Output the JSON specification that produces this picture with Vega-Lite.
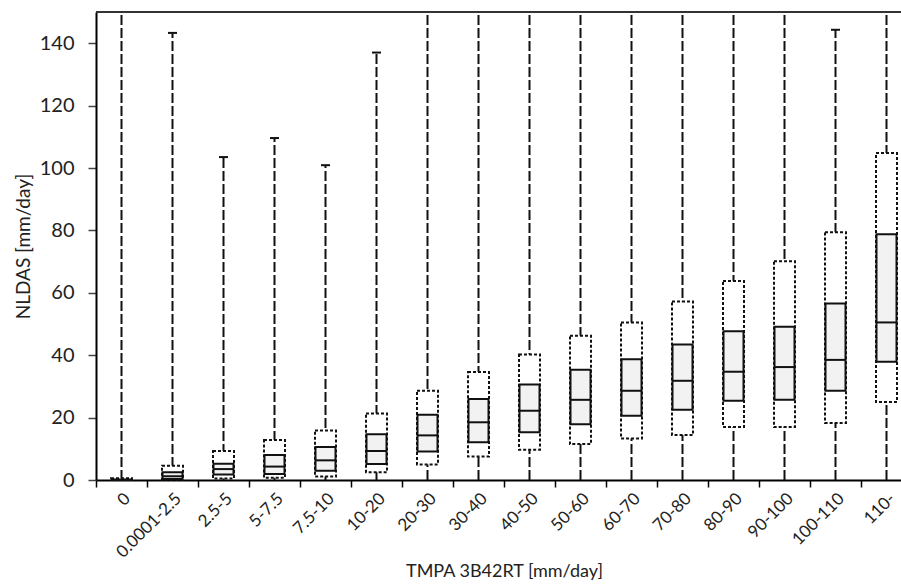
{
  "$schema": "https://vega.github.io/schema/vega-lite/v6.json",
  "autosize": {"type": "none"},
  "padding": {"left": 96, "top": 12, "right": 0, "bottom": 108},
  "width": 805,
  "height": 468,
  "background": "white",
  "config": {"view": {"stroke": null}, "font": "Lato"},
  "data": {"values": [
    {"cat": "0", "min": 0, "p10": 0, "p25": 0, "med": 0.05, "p75": 0.15, "p90": 0.6, "max": 170},
    {"cat": "0.0001-2.5", "min": 0, "p10": 0.1, "p25": 0.3, "med": 1.2, "p75": 2.5, "p90": 4.6, "max": 143.3},
    {"cat": "2.5-5", "min": 0, "p10": 0.5, "p25": 1.8, "med": 3.5, "p75": 5.2, "p90": 9.3, "max": 103.5},
    {"cat": "5-7.5", "min": 0, "p10": 0.7, "p25": 1.9, "med": 4.3, "p75": 8.0, "p90": 12.8, "max": 109.6},
    {"cat": "7.5-10", "min": 0, "p10": 1.1, "p25": 3.0, "med": 6.3, "p75": 10.6, "p90": 15.9, "max": 100.9},
    {"cat": "10-20", "min": 0, "p10": 2.5, "p25": 5.1, "med": 9.3, "p75": 14.7, "p90": 21.3, "max": 137},
    {"cat": "20-30", "min": 0, "p10": 5.0, "p25": 9.1, "med": 14.3, "p75": 20.9, "p90": 28.6, "max": 170},
    {"cat": "30-40", "min": 0, "p10": 7.5, "p25": 12.1, "med": 18.5, "p75": 26.0, "p90": 34.6, "max": 170},
    {"cat": "40-50", "min": 0, "p10": 9.7, "p25": 15.3, "med": 22.2, "p75": 30.6, "p90": 40.2, "max": 170},
    {"cat": "50-60", "min": 0, "p10": 11.5, "p25": 17.9, "med": 25.7, "p75": 35.3, "p90": 46.2, "max": 170},
    {"cat": "60-70", "min": 0, "p10": 13.3, "p25": 20.6, "med": 28.6, "p75": 38.7, "p90": 50.5, "max": 170},
    {"cat": "70-80", "min": 0, "p10": 14.4, "p25": 22.5, "med": 31.8, "p75": 43.4, "p90": 57.2, "max": 170},
    {"cat": "80-90", "min": 0, "p10": 17.0, "p25": 25.4, "med": 34.7, "p75": 47.7, "p90": 63.8, "max": 170},
    {"cat": "90-100", "min": 0, "p10": 17.0, "p25": 25.7, "med": 36.2, "p75": 49.1, "p90": 70.1, "max": 170},
    {"cat": "100-110", "min": 0, "p10": 18.3, "p25": 28.6, "med": 38.5, "p75": 56.6, "p90": 79.4, "max": 144.3},
    {"cat": "110-", "min": 0, "p10": 25.0, "p25": 37.9, "med": 50.5, "p75": 78.8, "p90": 104.8, "max": 170}
  ]},
  "layer": [
    {
      "mark": {"type": "rule", "strokeDash": [10, 3], "strokeWidth": 2, "color": "#111", "clip": true},
      "encoding": {
        "x": {
          "field": "cat", "type": "nominal", "sort": null,
          "scale": {"range": [0, 816], "paddingInner": 0, "paddingOuter": 0},
          "axis": {
            "title": "TMPA 3B42RT [mm/day]", "titleFont": "Lato", "titleFontSize": 18, "titleFontWeight": "normal", "titleColor": "#222",
            "labelAngle": -45, "labelFontSize": 17, "labelColor": "#222", "labelPadding": 3, "tickBand": "extent",
            "tickSize": 7, "tickColor": "#000", "tickWidth": 1.5, "domainColor": "#000", "domainWidth": 2, "titlePadding": 2
          }
        },
        "y": {"field": "min", "type": "quantitative", "scale": {"domain": [0, 150], "nice": false},
          "axis": {"title": "NLDAS [mm/day]", "values": [0, 20, 40, 60, 80, 100, 120, 140], "grid": false,
            "titleFont": "Lato", "titleFontSize": 19, "titleFontWeight": "normal", "titleColor": "#222",
            "labelFontSize": 20, "labelColor": "#222", "tickSize": 8, "tickColor": "#444", "tickWidth": 1.5, "domainColor": "#000", "domainWidth": 2, "labelPadding": 14, "titlePadding": 6}},
        "y2": {"field": "max"}
      }
    },
    {
      "mark": {"type": "bar", "size": 21, "fill": "white", "stroke": "#111", "strokeWidth": 2, "strokeDash": [3, 2]},
      "encoding": {"x": {"field": "cat", "type": "nominal", "sort": null}, "y": {"field": "p10", "type": "quantitative"}, "y2": {"field": "p90"}}
    },
    {
      "mark": {"type": "bar", "size": 20, "fill": "#f2f2f2", "stroke": "#111", "strokeWidth": 2},
      "encoding": {"x": {"field": "cat", "type": "nominal", "sort": null}, "y": {"field": "p25", "type": "quantitative"}, "y2": {"field": "p75"}}
    },
    {
      "mark": {"type": "tick", "size": 20, "thickness": 2, "color": "#111", "opacity": 1},
      "encoding": {"x": {"field": "cat", "type": "nominal", "sort": null}, "y": {"field": "med", "type": "quantitative"}}
    },
    {
      "transform": [{"filter": "datum.max < 150"}],
      "mark": {"type": "tick", "size": 9, "thickness": 2, "color": "#111", "opacity": 1},
      "encoding": {"x": {"field": "cat", "type": "nominal", "sort": null}, "y": {"field": "max", "type": "quantitative"}}
    },
    {
      "data": {"values": [{"top": 150}]},
      "mark": {"type": "rule", "color": "#333", "strokeWidth": 2},
      "encoding": {"y": {"field": "top", "type": "quantitative"}}
    }
  ]
}
